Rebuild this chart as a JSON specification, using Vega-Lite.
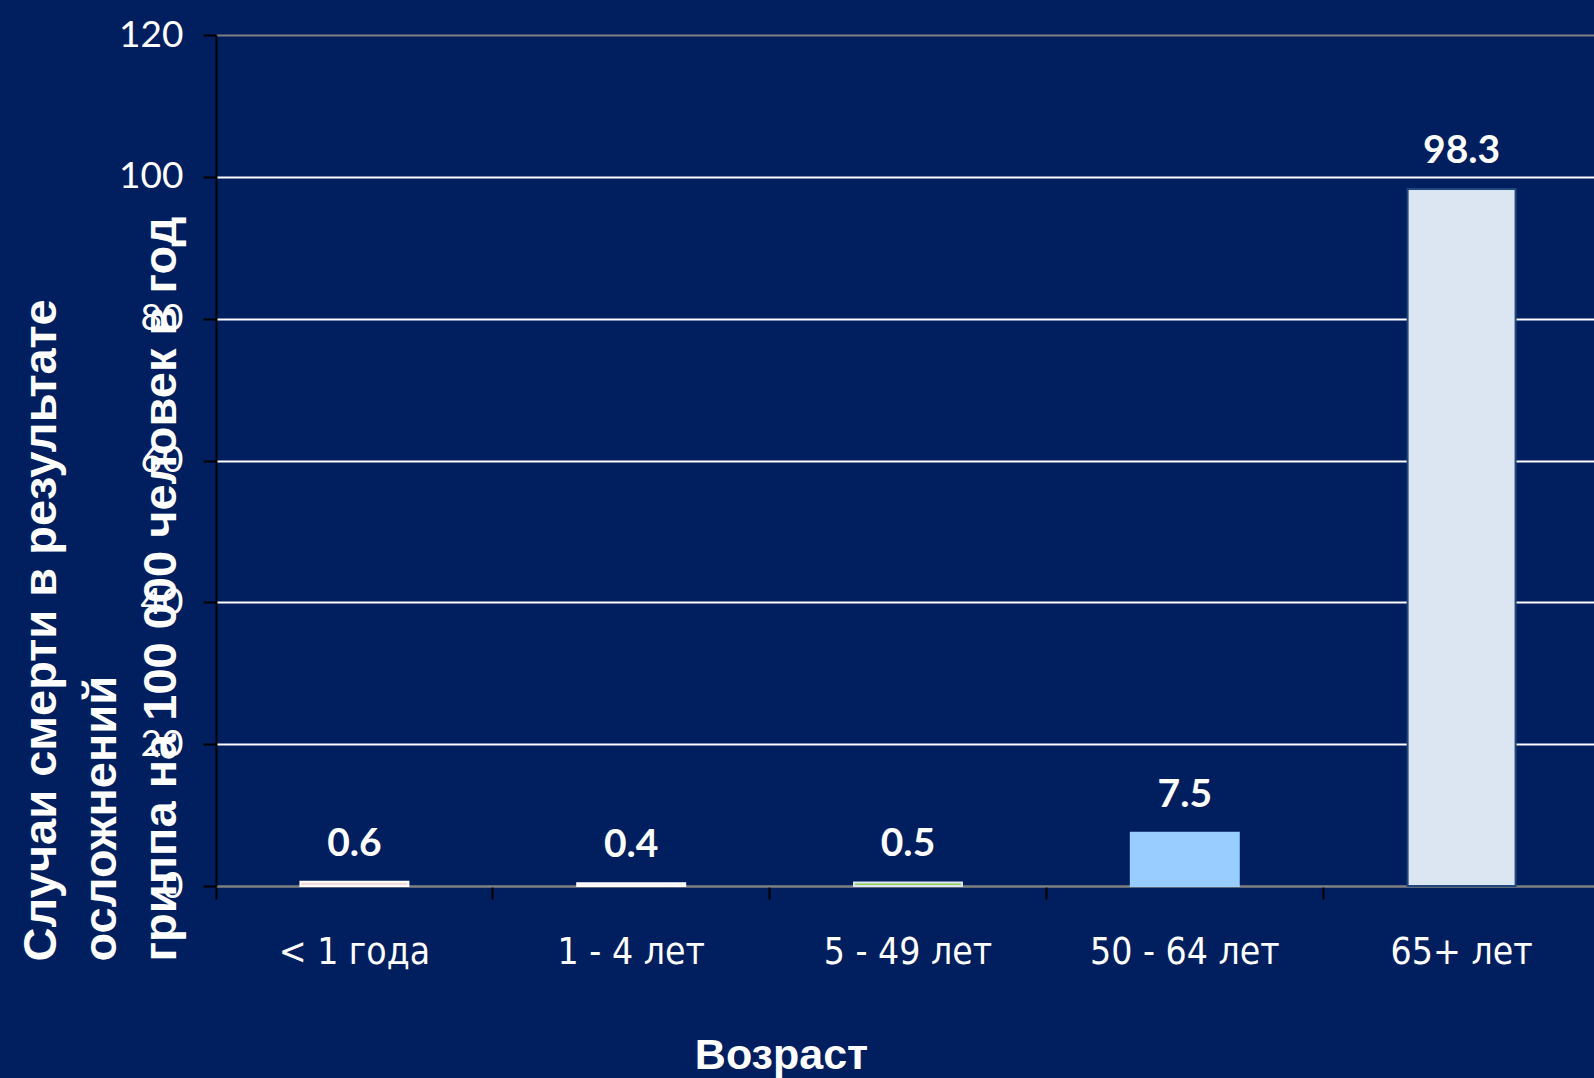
{
  "$schema": "https://vega.github.io/schema/vega-lite/v6.json",
  "autosize": "none",
  "width": 1384,
  "height": 851,
  "padding": {"left": 216, "top": 35, "right": 0, "bottom": 192},
  "background": "#011F5E",
  "config": {"view": {"stroke": null}},
  "data": {
    "values": [
      {"age": "< 1 года", "deaths": 0.6},
      {"age": "1 - 4 лет", "deaths": 0.4},
      {"age": "5 - 49 лет", "deaths": 0.5},
      {"age": "50 - 64 лет", "deaths": 7.5},
      {"age": "65+ лет", "deaths": 98.3}
    ]
  },
  "encoding": {
    "x": {
      "field": "age",
      "type": "nominal",
      "sort": null,
      "scale": {"paddingInner": 0, "paddingOuter": 0},
      "axis": {
        "labelAngle": 0,
        "labelLimit": 0,
        "labelColor": "white",
        "labelFont": "DejaVu Sans Condensed, sans-serif",
        "labelFontSize": 37,
        "labelPadding": 35,
        "bandPosition": 0,
        "domainColor": "#808080",
        "domainWidth": 2,
        "tickColor": "black",
        "tickWidth": 2,
        "tickSize": 13,
        "title": "Возраст",
        "titleColor": "white",
        "titleFont": "Liberation Sans",
        "titleFontWeight": "bold",
        "titleFontSize": 43,
        "titleX": 565,
        "titleY": 169,
        "titleAlign": "center",
        "titleBaseline": "middle"
      }
    },
    "y": {
      "field": "deaths",
      "type": "quantitative",
      "scale": {"domain": [0, 120], "nice": false},
      "axis": {
        "values": [0, 20, 40, 60, 80, 100, 120],
        "grid": true,
        "gridColor": {"condition": {"test": "datum.value == 120 || datum.value == 0", "value": "#808080"}, "value": "white"},
        "gridWidth": 2,
        "domainColor": "black",
        "domainWidth": 2,
        "tickColor": "black",
        "tickWidth": 2,
        "tickSize": 13,
        "labelColor": "white",
        "labelFont": "Lato",
        "labelFontSize": 37,
        "labelPadding": 20,
        "title": ["Случаи смерти в результате", "осложнений", "гриппа на 100 000 человек в год"],
        "titleColor": "white",
        "titleFont": "Liberation Sans",
        "titleFontWeight": "bold",
        "titleFontSize": 47,
        "titleLineHeight": 60,
        "titleAngle": 270,
        "titleAlign": "left",
        "titleBaseline": "top",
        "titleX": -198,
        "titleY": 926
      }
    }
  },
  "layer": [
    {
      "mark": {"type": "bar", "width": {"band": 0.39}},
      "encoding": {
        "color": {
          "field": "age",
          "type": "nominal",
          "sort": null,
          "legend": null,
          "scale": {"domain": ["< 1 года", "1 - 4 лет", "5 - 49 лет", "50 - 64 лет", "65+ лет"], "range": ["#F2DCDB", "#F2F1EA", "#92D050", "#99CCFF", "#DCE6F2"]}
        },
        "stroke": {
          "field": "age",
          "type": "nominal",
          "sort": null,
          "legend": null,
          "scale": {"domain": ["< 1 года", "1 - 4 лет", "5 - 49 лет", "50 - 64 лет", "65+ лет"], "range": ["#FFFFFF", "#FFFFFF", "#DCE6F2", "#99CCFF", "#1F497D"]}
        },
        "strokeWidth": {"value": 2}
      }
    },
    {
      "mark": {"type": "text", "dy": -38, "baseline": "middle", "align": "center", "font": "Lato", "fontWeight": "bold", "fontSize": 39, "color": "white"},
      "encoding": {
        "text": {"field": "deaths", "type": "quantitative", "format": ".1f"}
      }
    }
  ]
}
